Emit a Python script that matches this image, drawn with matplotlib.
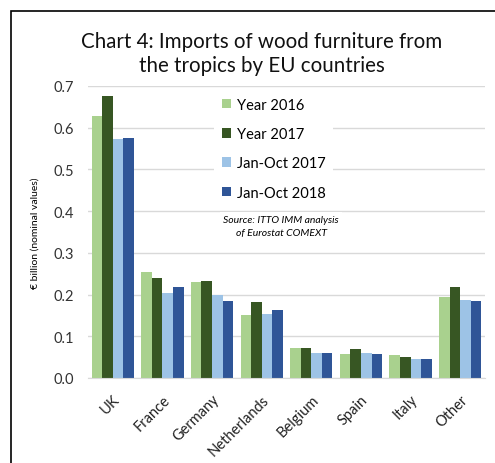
import matplotlib
matplotlib.use("Agg")
import matplotlib.pyplot as plt
import numpy as np
from matplotlib.patches import Rectangle

plt.rcParams['font.family'] = ['Lato', 'DejaVu Sans']

countries = ['UK', 'France', 'Germany', 'Netherlands', 'Belgium', 'Spain', 'Italy', 'Other']
series_names = ['Year 2016', 'Year 2017', 'Jan-Oct 2017', 'Jan-Oct 2018']
year_2016 = [0.627, 0.253, 0.229, 0.151, 0.073, 0.057, 0.054, 0.193]
year_2017 = [0.676, 0.240, 0.232, 0.182, 0.073, 0.070, 0.051, 0.218]
jan_oct_2017 = [0.572, 0.204, 0.198, 0.154, 0.061, 0.061, 0.045, 0.188]
jan_oct_2018 = [0.576, 0.219, 0.184, 0.163, 0.061, 0.057, 0.045, 0.185]
colors = ['#a9d18e', '#375623', '#9dc3e6', '#2f5597']

fig = plt.figure(figsize=(4.95, 4.64), dpi=100)
ax = fig.add_axes([88 / 495, 1 - 379 / 464, (485 - 88) / 495, (379 - 87) / 464])

x = np.arange(len(countries))
w = 0.213
all_series = [year_2016, year_2017, jan_oct_2017, jan_oct_2018]
for i, (vals, name) in enumerate(zip(all_series, series_names)):
    ax.bar(x + (i - 1.5) * w, vals, w, color=colors[i], label=name, zorder=2)

ax.set_xlim(-0.5, len(countries) - 0.5)
ax.set_ylim(0, 0.7)
ax.set_yticks(np.arange(0, 0.71, 0.1))
ax.set_yticklabels(['%.1f' % v for v in np.arange(0, 0.71, 0.1)], fontsize=10.5, color='#333333')
ax.set_xticks(x)
ax.set_xticklabels(countries, rotation=45, ha='right', rotation_mode='anchor', fontsize=10.5, color='#222222')
ax.tick_params(length=0, pad=10)
ax.tick_params(axis='x', pad=10)
ax.yaxis.grid(True, color='#d9d9d9', lw=1, zorder=0)
ax.set_axisbelow(True)
for s in ['top', 'right', 'left']:
    ax.spines[s].set_visible(False)
ax.spines['bottom'].set_color('#d9d9d9')
ax.spines['bottom'].set_zorder(3)
ax.set_ylabel('€ billion (nominal values)', fontsize=7.5, labelpad=10)

fig.text(262 / 495, 1 - 54 / 464, 'Chart 4: Imports of wood furniture from\nthe tropics by EU countries',
         ha='center', va='center', fontsize=14.8, linespacing=1.2, color='#111111')

leg = ax.legend(loc='upper left', bbox_to_anchor=(207 / 495, 1 - 84 / 464), bbox_transform=fig.transFigure,
                fontsize=10.5, frameon=True, handlelength=0.65, handleheight=0.65, handletextpad=0.4,
                labelspacing=1.05, borderpad=0.5, fancybox=False)
leg.get_frame().set_edgecolor('none')
leg.get_frame().set_facecolor('white')
leg.get_frame().set_alpha(1)
leg.set_zorder(4)

ax.text(281 / 495, 1 - 227 / 464, 'Source: ITTO IMM analysis\nof Eurostat COMEXT', transform=fig.transFigure,
        ha='center', va='center', fontsize=7.5, style='italic', linespacing=1.55, zorder=4,
        bbox=dict(facecolor='white', edgecolor='none', pad=2))

fig.patches.append(Rectangle((11 / 495, -0.1), 1.2, 1 - 12 / 464 + 0.1, transform=fig.transFigure,
                             fill=False, edgecolor='black', lw=1.2))

fig.savefig('out.png', dpi=100)
